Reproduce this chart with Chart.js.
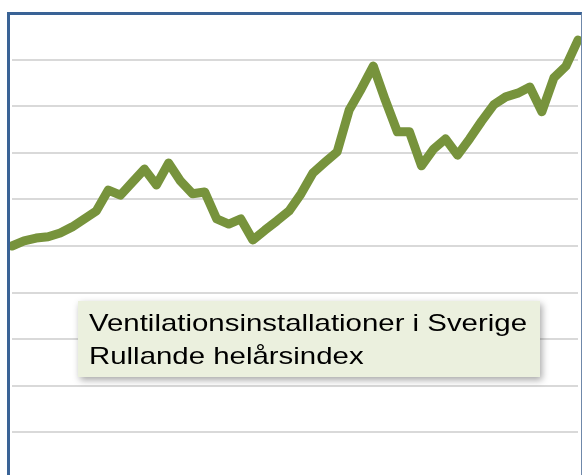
<!DOCTYPE html>
<html>
<head>
<meta charset="utf-8">
<script src="https://cdn.jsdelivr.net/npm/chart.js@4.4.1/dist/chart.umd.min.js"></script>
<style>
  html, body { margin: 0; padding: 0; background: #fff; overflow: hidden; width: 582px; height: 475px; }
  #wrap { position: relative; width: 582px; height: 475px; overflow: hidden; }
  #chart { position: absolute; left: 0; top: 0; }
  #frame {
    position: absolute; left: 7px; top: 12px; width: 571px; height: 520px;
    border-left: 3px solid #3a6396; border-top: 3px solid #3a6396; border-right: 1px solid #6f88aa;
    pointer-events: none;
  }
</style>
</head>
<body>
<div id="wrap">
  <canvas id="chart" width="582" height="490"></canvas>
  <div id="frame"></div>
</div>
<script>
// rullande helårsindex, en punkt per period
const periods = [
  "1", "2", "3", "4", "5", "6", "7", "8", "9", "10", "11", "12",
  "13", "14", "15", "16", "17", "18", "19", "20", "21", "22", "23", "24",
  "25", "26", "27", "28", "29", "30", "31", "32", "33", "34", "35", "36",
  "37", "38", "39", "40", "41", "42", "43", "44", "45", "46", "47", "48"
];
const indexValues = [
  50.0, 51.1, 51.7, 52.0, 52.8, 54.1, 55.8, 57.5, 62.0, 60.9, 63.7, 66.5,
  63.1, 67.8, 63.9, 61.2, 61.6, 55.8, 54.7, 55.8, 51.3, 53.4, 55.4, 57.5,
  61.2, 65.7, 68.0, 70.2, 79.2, 83.7, 88.6, 81.3, 74.5, 74.5, 67.2, 70.8,
  73.0, 69.5, 73.0, 76.8, 80.3, 82.0, 82.8, 84.1, 78.8, 86.1, 88.6, 94.2
];
const yMin = 0;
const yMax = 100;
const yStep = 10;
const boxLines = ["Ventilationsinstallationer i Sverige", "Rullande helårsindex"];

// textrutan mitt i diagrammet
const textBox = {
  id: "textBox",
  afterDraw(chart) {
    const ctx = chart.ctx;
    ctx.save();
    ctx.shadowColor = "rgba(0,0,0,0.35)";
    ctx.shadowBlur = 7;
    ctx.shadowOffsetX = 2;
    ctx.shadowOffsetY = 3;
    ctx.fillStyle = "#ebf0de";
    ctx.fillRect(78, 301, 462, 76);
    ctx.restore();

    // texten är lite utdragen på bredden i originalet
    ctx.save();
    ctx.fillStyle = "#000";
    ctx.font = "24px 'Liberation Sans', Arial, sans-serif";
    ctx.textBaseline = "alphabetic";
    const sx = 438 / ctx.measureText(boxLines[0]).width;
    ctx.translate(89, 0);
    ctx.scale(sx, 1);
    ctx.fillText(boxLines[0], 0, 331);
    ctx.fillText(boxLines[1], 0, 364);
    ctx.restore();
  },
};

const ctx = document.getElementById("chart").getContext("2d");
new Chart(ctx, {
  type: "line",
  data: {
    labels: periods,
    datasets: [
      {
        label: boxLines[1],
        data: indexValues,
        borderColor: "#77933c",
        borderWidth: 9,
        borderJoinStyle: "round",
        borderCapStyle: "round",
        pointRadius: 0,
        tension: 0,
        fill: false,
      },
    ],
  },
  options: {
    responsive: false,
    animation: false,
    layout: { padding: { left: 12, right: 4, top: 13, bottom: 11 } },
    plugins: { legend: { display: false }, tooltip: { enabled: false } },
    scales: {
      x: {
        display: false,
        offset: false,
      },
      y: {
        min: yMin,
        max: yMax,
        ticks: { display: false, stepSize: yStep },
        border: { display: false },
        grid: { color: "#d9d9d9", lineWidth: 2, drawTicks: false },
      },
    },
  },
  plugins: [textBox],
});
</script>
</body>
</html>
